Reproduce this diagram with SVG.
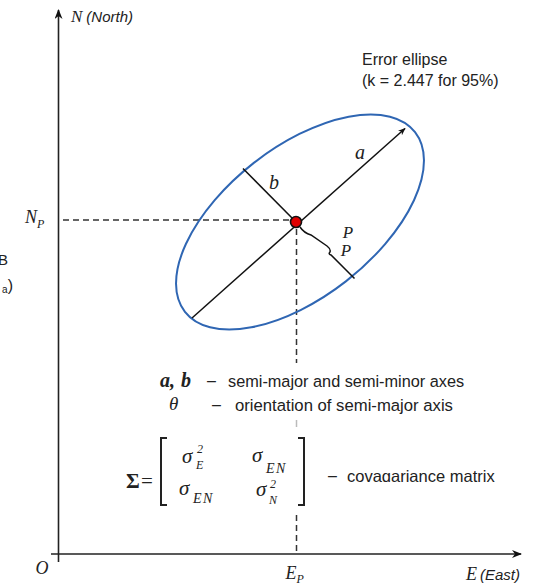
<svg xmlns="http://www.w3.org/2000/svg" width="533" height="583" viewBox="0 0 533 583">
<style>
.ax{stroke:#222;stroke-width:1.6;fill:none}
.dash{stroke:#333;stroke-width:1.5;stroke-dasharray:6 4;fill:none}
.ln{stroke:#111;stroke-width:1.5;fill:none}
.m{font-family:"Liberation Serif","DejaVu Serif",serif;font-style:italic;fill:#222}
.s{font-family:"Liberation Sans",Arial,sans-serif;fill:#222}
</style>
<defs>
<marker id="arr" viewBox="0 0 10 8" refX="9" refY="4" markerWidth="10" markerHeight="8" markerUnits="userSpaceOnUse" orient="auto">
<path d="M0,0 L10,4 L0,8 L3,4 z" fill="#111"/>
</marker>
<marker id="arr2" viewBox="0 0 10 8" refX="9" refY="4" markerWidth="8" markerHeight="6" markerUnits="userSpaceOnUse" orient="auto">
<path d="M0,0 L10,4 L0,8 L3,4 z" fill="#111"/>
</marker>
</defs>
<rect width="533" height="583" fill="#fff"/>

<g id="connectors">
<line class="ax" x1="58.5" y1="562" x2="58.5" y2="10" marker-end="url(#arr)"/>
<line class="ax" x1="51" y1="554" x2="521" y2="554" marker-end="url(#arr)"/>
<line class="dash" x1="63" y1="220" x2="290" y2="220"/>
<line class="dash" x1="296.5" y1="229" x2="296.5" y2="363"/>
<line x1="296.5" y1="420" x2="296.5" y2="427" stroke="#bbb" stroke-width="1.5"/>
<line class="dash" x1="296.5" y1="515" x2="296.5" y2="553"/>
</g>

<g id="ellipse">
<ellipse cx="300" cy="222" rx="146" ry="75" transform="rotate(-38 300 222)" fill="none" stroke="#2f66b3" stroke-width="2"/>
<line class="ln" x1="192" y1="318" x2="405" y2="128.5" marker-end="url(#arr2)"/>
<line class="ln" x1="243" y1="168.5" x2="296" y2="222"/>
<path class="ln" d="M300,227 Q304,233 311,235 L327,246 Q331,249 330,252 Q328,254 331,255 L354.5,278.5"/>
<circle cx="296" cy="222" r="5.5" fill="#e00000" stroke="#111" stroke-width="1.6"/>
<text class="m" x="360" y="158.5" font-size="20" text-anchor="middle">a</text>
<text class="m" x="274" y="189" font-size="20" text-anchor="middle">b</text>
<text class="m" x="348" y="237.5" font-size="17" text-anchor="middle">P</text>
<text class="m" x="346" y="255.7" font-size="17" text-anchor="middle">P</text>
</g>

<g id="axis-labels">
<text x="71" y="22"><tspan class="m" font-size="17">N</tspan><tspan class="s" font-style="italic" font-size="15" dx="4">(North)</tspan></text>
<text class="m" x="25" y="223" font-size="18">N<tspan font-size="12" dy="5">P</tspan></text>
<text class="m" x="35.5" y="574" font-size="18">O</text>
<text class="m" x="285.5" y="579" font-size="18">E<tspan font-size="12" dy="4">P</tspan></text>
<text x="466" y="580"><tspan class="m" font-size="18">E</tspan><tspan class="s" font-style="italic" font-size="15" dx="3">(East)</tspan></text>
<text class="s" x="8" y="265" font-size="15" text-anchor="end">B</text>
<text class="s" x="13" y="291" font-size="16" text-anchor="end"><tspan font-size="10" dy="2">a</tspan><tspan dy="-2">)</tspan></text>
</g>

<g id="ellipse-note">
<text class="s" x="362" y="65" font-size="16">Error ellipse</text>
<text class="s" x="362" y="86" font-size="16">(k = 2.447 for 95%)</text>
</g>

<g id="legend">
<text class="m" x="160" y="387" font-size="20" font-weight="bold">a,<tspan dx="6">b</tspan></text>
<text class="s" x="207" y="386" font-size="16">–</text>
<text class="s" x="228" y="387" font-size="16.3">semi-major and semi-minor axes</text>
<text class="m" x="169" y="410" font-size="19">θ</text>
<text class="s" x="212" y="410" font-size="16">–</text>
<text class="s" x="235" y="411" font-size="16.7">orientation of semi-major axis</text>
</g>

<g id="matrix">
<text x="126" y="488" font-family="Liberation Serif,serif" font-weight="bold" font-size="21" fill="#222">Σ</text>
<text x="141" y="488" font-family="Liberation Serif,serif" font-size="21" fill="#222">=</text>
<path d="M167,438 L161,438 L161,505 L167,505 M298,438 L304,438 L304,505 L298,505" stroke="#222" stroke-width="2" fill="none"/>
<text class="m" x="182" y="463" font-size="21">σ</text>
<text class="m" x="197" y="453" font-size="12">2</text>
<text class="m" x="196" y="469" font-size="12">E</text>
<text class="m" x="252" y="462" font-size="21">σ</text>
<text class="m" x="266" y="473" font-size="14" letter-spacing="1.5">EN</text>
<text class="m" x="179" y="495" font-size="21">σ</text>
<text class="m" x="193" y="503" font-size="14" letter-spacing="1.5">EN</text>
<text class="m" x="256" y="496" font-size="21">σ</text>
<text class="m" x="270" y="488" font-size="12">2</text>
<text class="m" x="269" y="504" font-size="12">N</text>
<text class="s" x="328" y="481" font-size="16">–</text>
<text class="s" x="347" y="482" font-size="16.5">covaɑariance matrix</text>
</g>
</svg>
